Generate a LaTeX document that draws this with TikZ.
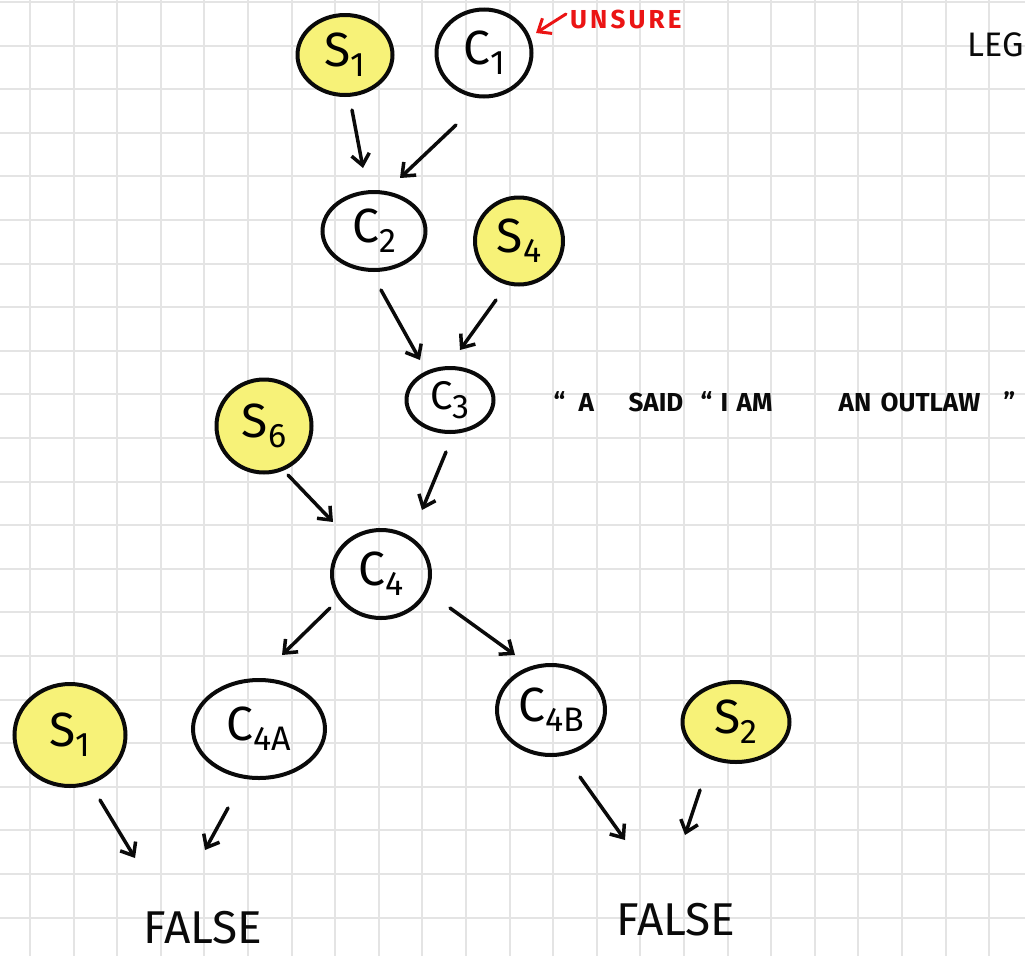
\documentclass[tikz,border=0pt]{standalone}
\usepackage{fontspec}
\setmainfont{Fira Sans}
\usetikzlibrary{arrows.meta,shapes.geometric}
\definecolor{gridc}{RGB}{228,228,228}
\definecolor{hl}{RGB}{247,242,120}
\definecolor{pen}{RGB}{10,10,10}
\definecolor{redpen}{RGB}{235,20,20}
\newcommand{\lbl}[2]{#1\raisebox{-0.4ex}{\fontsize{34}{34}\selectfont #2}}
\newcommand{\at}[2]{\rlap{\hspace{#1pt}#2}}
\begin{document}
\begin{tikzpicture}[x=1pt,y=-1pt,
  gridline/.style={draw=gridc, line width=2pt},
  circ/.style={draw=pen, line width=4pt, shape=ellipse, inner sep=0pt, font=\fontsize{48}{48}\selectfont},
  yel/.style={circ, fill=hl},
  arr/.style={draw=pen, line width=3.5pt, line cap=round, line join=round, -{Straight Barb[length=11pt,width=18pt]}},
  hand/.style={font=\fontsize{#1}{#1}\selectfont, text=pen, inner sep=0pt}]
\useasboundingbox (0,0) rectangle (1025,956);
\clip (0,0) rectangle (1025,956);
\fill[white] (0,0) rectangle (1025,956);
\foreach \k in {0,...,22} \draw[gridline] ({30+43.6*\k},0) -- ({30+43.6*\k},956);
\foreach \k in {0,...,21} \draw[gridline] (0,{2+43.6*\k}) -- (1025,{2+43.6*\k});

% nodes
\node[yel, minimum width=95, minimum height=80] (s1a) at (345,55) {\lbl{S}{1}};
\node[circ, minimum width=95, minimum height=87] (c1) at (484,53) {\lbl{C}{1}};
\node[circ, minimum width=103, minimum height=78] (c2) at (374,231) {\lbl{C}{2}};
\node[yel, minimum width=88, minimum height=87] (s4) at (519,241) {\lbl{S}{4}};
\node[circ, minimum width=87, minimum height=64, font=\fontsize{40}{40}\selectfont] (c3) at (450,400) {\lbl{C}{3}};
\node[yel, minimum width=95, minimum height=93] (s6) at (264,426) {\lbl{S}{6}};
\node[circ, minimum width=98, minimum height=88] (c4) at (381,574) {\lbl{C}{4}};
\node[yel, minimum width=111, minimum height=102] (s1b) at (70,735) {\lbl{S}{1}};
\node[circ, minimum width=132, minimum height=98] (c4a) at (259,729) {\lbl{C}{4A}};
\node[circ, minimum width=108, minimum height=90] (c4b) at (551,710) {\lbl{C}{4B}};
\node[yel, minimum width=107, minimum height=80] (s2) at (736,722) {\lbl{S}{2}};
\node[hand=46] (f1) at (203,928) {FALSE};
\node[hand=46] (f2) at (676,920) {FALSE};

% texts
\node[hand=26, text=redpen, anchor=west, font=\fontsize{26}{26}\selectfont\bfseries\addfontfeature{LetterSpace=12}] (unsure) at (570,19) {UNSURE};
\node[hand=34, anchor=east] (leg) at (1024,45) {LEG};
\node[hand=26, anchor=west, font=\fontsize{26}{26}\selectfont\bfseries] (quote) at (553,402)
  {\at{0}{\char"201C}\at{25}{A}\at{75}{SAID}\at{147}{\char"201C}\at{167}{I}\at{183}{AM}\at{285}{AN}\at{327}{OUTLAW}\at{450}{\char"201D}\hspace{462pt}};

% arrow endpoints
\coordinate (a1s) at (352,110); \coordinate (a1e) at (363,168);
\coordinate (a2s) at (456,125); \coordinate (a2e) at (400,178);
\coordinate (a3s) at (381,290); \coordinate (a3e) at (420,360);
\coordinate (a4s) at (496,300); \coordinate (a4e) at (460,350);
\coordinate (a5s) at (288,475); \coordinate (a5e) at (333,522);
\coordinate (a6s) at (446,452); \coordinate (a6e) at (422,510);
\coordinate (a7s) at (330,608); \coordinate (a7e) at (282,655);
\coordinate (a8s) at (450,608); \coordinate (a8e) at (515,655);
\coordinate (a9s) at (100,800); \coordinate (a9e) at (135,858);
\coordinate (a10s) at (228,808); \coordinate (a10e) at (205,850);
\coordinate (a11s) at (580,777); \coordinate (a11e) at (625,840);
\coordinate (a12s) at (700,790); \coordinate (a12e) at (685,835);
\coordinate (a13s) at (566,14); \coordinate (a13e) at (536,33);

\draw[arr] (a1s) -- (a1e);
\draw[arr] (a2s) -- (a2e);
\draw[arr] (a3s) -- (a3e);
\draw[arr] (a4s) -- (a4e);
\draw[arr] (a5s) -- (a5e);
\draw[arr] (a6s) -- (a6e);
\draw[arr] (a7s) -- (a7e);
\draw[arr] (a8s) -- (a8e);
\draw[arr] (a9s) -- (a9e);
\draw[arr] (a10s) -- (a10e);
\draw[arr] (a11s) -- (a11e);
\draw[arr] (a12s) -- (a12e);
\draw[arr, draw=redpen, line width=3pt] (a13s) -- (a13e);
\end{tikzpicture}
\end{document}
